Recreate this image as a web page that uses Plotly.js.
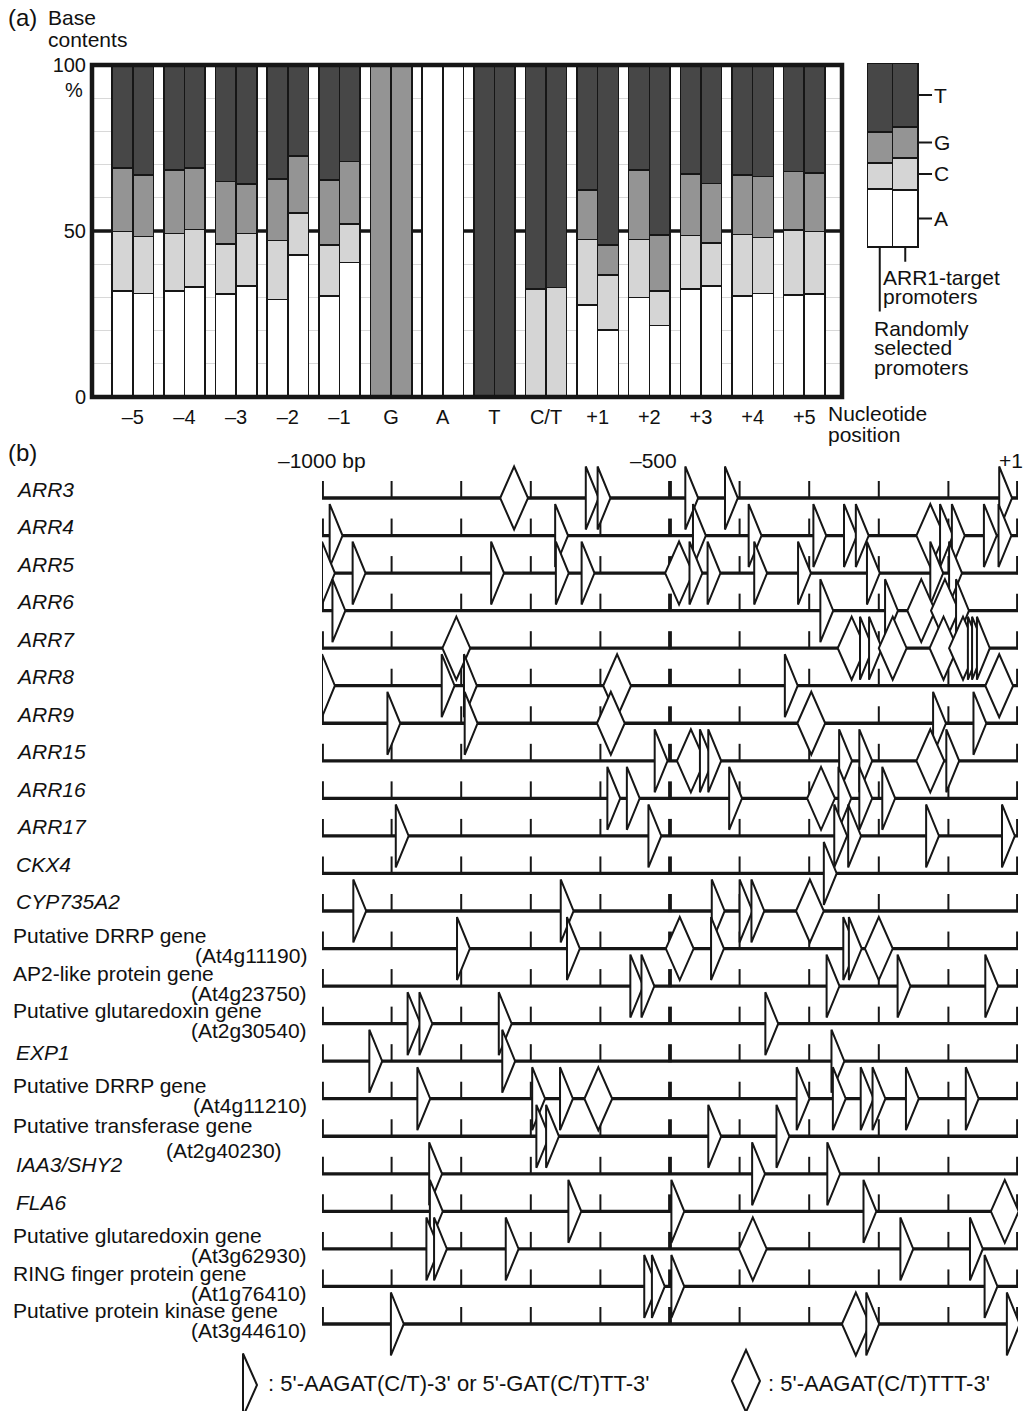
<!DOCTYPE html>
<html><head><meta charset="utf-8">
<script src="https://cdn.plot.ly/plotly-3.0.1.min.js"></script>
<style>html,body{margin:0;padding:0;background:#fff;} #chart{width:1023px;height:1411px;}</style>
</head><body><div id="chart"></div>
<script>
// ---------- (a) base contents data ----------
const positions = ['\u20135','\u20134','\u20133','\u20132','\u20131','G','A','T','C/T','+1','+2','+3','+4','+5'];
const randomA = [32.0,32.0,31.0,29.4,30.4,0,100,0,0,27.7,30.0,32.5,30.4,30.7];
const randomC = [17.8,17.3,15.1,17.7,15.4,0,0,0,32.5,19.8,17.5,16.1,18.6,19.6];
const randomG = [19.1,19.1,18.8,18.6,19.6,100,0,0,0,14.8,20.9,18.6,17.9,17.6];
const randomT = [31.1,31.6,35.1,34.3,34.6,0,0,100,67.5,37.7,31.6,32.8,33.1,32.1];
const targetA = [31.2,33.2,33.5,42.8,40.5,0,100,0,0,20.2,21.5,33.5,31.2,31.0];
const targetC = [17.1,17.3,15.8,12.7,11.6,0,0,0,33.0,16.5,10.5,12.8,16.9,18.8];
const targetG = [18.6,18.4,14.9,17.1,18.8,100,0,0,0,9.1,16.8,18.0,18.3,17.7];
const targetT = [33.1,31.1,35.8,27.4,29.1,0,0,100,67.0,54.2,51.2,35.7,33.6,32.5];
const legendBases = ['A','C','G','T'];
const legendRandom = [31.5,14.2,16.8,37.5];
const legendTarget = [31.0,17.4,16.8,34.8];

// ---------- (b) promoter motif data (bp, motif start) ----------
const genes = ['ARR3','ARR4','ARR5','ARR6','ARR7','ARR8','ARR9','ARR15','ARR16','ARR17','CKX4','CYP735A2',
 'Putative DRRP gene','AP2-like protein gene','Putative glutaredoxin gene','EXP1','Putative DRRP gene',
 'Putative transferase gene','IAA3/SHY2','FLA6','Putative glutaredoxin gene','RING finger protein gene',
 'Putative protein kinase gene'];
const geneIds = ['','','','','','','','','','','','','(At4g11190)','(At4g23750)','(At2g30540)','','(At4g11210)',
 '(At2g40230)','','','(At3g62930)','(At1g76410)','(At3g44610)'];
const shortMotif = [
 [-621,-604,-478,-421,-27],
 [-989,-665,-467,-387,-294,-250,-233,-112,-95,-49,-28],
 [-1000,-956,-757,-664,-627,-472,-446,-379,-316,-217,-126,-99],
 [-985,-284,-191,-89],
 [-227,-214,-72,-66,-59],
 [-1000,-828,-796,-335],
 [-906,-795,-122,-64],
 [-522,-457,-445,-257,-228,-103],
 [-590,-562,-415,-258,-228,-195],
 [-894,-531,-264,-244,-132,-23],
 [-279],
 [-955,-657,-440,-400,-383],
 [-806,-648,-441,-251,-243],
 [-557,-541,-275,-173,-47],
 [-877,-860,-746,-363],
 [-932,-741,-268],
 [-863,-698,-658,-318,-266,-226,-209,-161,-75],
 [-692,-678,-445,-347],
 [-846,-382,-274],
 [-845,-646,-498,-222],
 [-850,-839,-736,-169,-69],
 [-537,-526,-498,-48],
 [-901,-218,-16]
];
const longMotif = [
 [-744],[-146],[-507],[-159,-125],[-827,-259,-200,-127,-99],[-596,-47],[-605,-317],[-490,-146],
 [-303],[],[],[-319],[-506,-220],[],[],[],[-623],[],[],[-39],[-401],[],[-253]
];
const axisMarks = [-1000,-900,-800,-700,-600,-500,-400,-300,-200,-100,0];
const majorMarks = [-1000,-500,0];

// ---------- layout helpers ----------
const W=1023,H=1411;
const fx = p => p/W, fy = p => 1 - p/H;
const FONT = '"Liberation Sans", Arial, Helvetica, sans-serif';
const INK = '#161616';
const colors = {A:'#ffffff',C:'#d5d5d5',G:'#949494',T:'#474747'};
const randomSets = {A:randomA,C:randomC,G:randomG,T:randomT};
const targetSets = {A:targetA,C:targetC,G:targetG,T:targetT};
const idx = positions.map((_,i)=>i);
const traces = [];
const shapes = [];
const ann = [];

['A','C','G','T'].forEach(b=>{
  traces.push({type:'bar',x:idx.map(i=>i-0.2),y:randomSets[b],width:0.4,xaxis:'x',yaxis:'y',
    marker:{color:colors[b],line:{color:INK,width:1.6}},hoverinfo:'skip'});
  traces.push({type:'bar',x:idx.map(i=>i+0.2),y:targetSets[b],width:0.4,xaxis:'x',yaxis:'y',
    marker:{color:colors[b],line:{color:INK,width:1.6}},hoverinfo:'skip'});
});
legendBases.forEach((b,k)=>{
  traces.push({type:'bar',x:[0,1],y:[legendRandom[k],legendTarget[k]],width:1,xaxis:'x2',yaxis:'y2',
    marker:{color:colors[b],line:{color:INK,width:1.6}},hoverinfo:'skip'});
});
// 50% line (under bars) and frame
shapes.push({type:'line',xref:'paper',yref:'y',x0:fx(92),x1:fx(842),y0:50,y1:50,line:{color:INK,width:3.5},layer:'below'});
shapes.push({type:'rect',xref:'paper',yref:'paper',x0:fx(92),x1:fx(842),y0:fy(397),y1:fy(65),line:{color:INK,width:4.5},layer:'above'});
// legend ticks + labels
let cum = 0;
legendBases.forEach((b,k)=>{
  const mid = cum + legendTarget[k]/2; cum += legendTarget[k];
  shapes.push({type:'line',xref:'x2',yref:'y2',x0:1.5,x1:2.05,y0:mid,y1:mid,line:{color:INK,width:2}});
  ann.push({xref:'x2',yref:'y2',x:2.05,y:mid,text:b,showarrow:false,xanchor:'left',yanchor:'middle',font:{size:21}});
});
shapes.push({type:'line',xref:'x2',yref:'y2',x0:0,x1:0,y0:0,y1:-35,line:{color:INK,width:2}});
shapes.push({type:'line',xref:'x2',yref:'y2',x0:1,x1:1,y0:0,y1:-8,line:{color:INK,width:2}});

function txt(x,y,t,opt){ann.push(Object.assign({xref:'paper',yref:'paper',x:fx(x),y:fy(y),text:t,showarrow:false,
  xanchor:'left',yanchor:'middle',font:{size:21}},opt||{}));}
txt(6,18,'(a)',{font:{size:24}});
txt(46,18,'Base'); txt(46,40,'contents');
txt(74,90,'%',{xanchor:'center',font:{size:20}});
txt(826,413,'Nucleotide'); txt(826,434,'position');
txt(881,277,'ARR1-target'); txt(881,297,'promoters');
txt(872,328,'Randomly'); txt(872,348,'selected'); txt(872,368,'promoters');

// ---------- (b) ----------
const ROW0=498, PITCH=37.545;
const hh = 31.5/PITCH, tickH = 17/PITCH, triW=18.5, diaW=40;
const lx=[],ly=[],tx=[],ty=[],Tx=[],Ty=[];
genes.forEach((g,r)=>{
  lx.push(-1000,0,null); ly.push(r,r,null);
  axisMarks.forEach(m=>{
    if(majorMarks.includes(m)){Tx.push(m,m,null);Ty.push(r+0.03,r-tickH,null);}
    else {tx.push(m,m,null);ty.push(r,r-tickH,null);}
  });
});
traces.push({type:'scatter',mode:'lines',x:lx,y:ly,xaxis:'x3',yaxis:'y3',line:{color:INK,width:3.3},hoverinfo:'skip'});
traces.push({type:'scatter',mode:'lines',x:tx,y:ty,xaxis:'x3',yaxis:'y3',line:{color:INK,width:2},hoverinfo:'skip'});
traces.push({type:'scatter',mode:'lines',x:Tx,y:Ty,xaxis:'x3',yaxis:'y3',line:{color:INK,width:3.8},hoverinfo:'skip'});

const triPath=(s,r)=>`M ${s},${r-hh} L ${s+triW},${r} L ${s},${r+hh} Z`;
const diaPath=(s,r)=>`M ${s},${r} L ${s+diaW/2},${r-hh} L ${s+diaW},${r} L ${s+diaW/2},${r+hh} Z`;
genes.forEach((g,r)=>{
  const items = shortMotif[r].map(s=>({s,t:'tri'})).concat(longMotif[r].map(s=>({s,t:'dia'})));
  items.sort((a,b)=>a.s-b.s);
  items.forEach(it=>{
    shapes.push({type:'path',xref:'x3',yref:'y3',path: it.t==='tri'?triPath(it.s,r):diaPath(it.s,r),
      fillcolor:'#ffffff',line:{color:INK,width:2},layer:'above'});
  });
});
// gene labels
genes.forEach((g,r)=>{
  if(!geneIds[r]){
    ann.push({xref:'paper',yref:'y3',x:fx(14),y:r,yshift:9,text:'<i>'+g+'</i>',showarrow:false,xanchor:'left',yanchor:'middle',font:{size:21}});
  } else {
    const special = geneIds[r]==='(At2g40230)';
    ann.push({xref:'paper',yref:'y3',x:fx(11),y:r,yshift:special?11:13,text:g,showarrow:false,xanchor:'left',yanchor:'middle',font:{size:21}});
    ann.push({xref:'paper',yref:'y3',x:fx(special?284:309),y:r,yshift:special?-14:-7,text:geneIds[r],showarrow:false,xanchor:'right',yanchor:'middle',font:{size:21}});
  }
});
txt(6,452,'(b)',{font:{size:24}});
ann.push({xref:'x3',yref:'y3',x:-1000,y:-1,text:'\u20131000 bp',showarrow:false,xanchor:'center',yanchor:'middle',font:{size:21}});
ann.push({xref:'x3',yref:'y3',x:-500,y:-1,xshift:9,text:'\u2013500',showarrow:false,xanchor:'right',yanchor:'middle',font:{size:21}});
ann.push({xref:'x3',yref:'y3',x:0,y:-1,xshift:7,text:'+1',showarrow:false,xanchor:'right',yanchor:'middle',font:{size:21}});
// bottom key
const kTri = `M ${fx(243)},${fy(1353.5)} L ${fx(257)},${fy(1385)} L ${fx(243)},${fy(1416.5)} Z`;
const kDia = `M ${fx(732)},${fy(1381)} L ${fx(746)},${fy(1350)} L ${fx(760)},${fy(1381)} L ${fx(746)},${fy(1412)} Z`;
shapes.push({type:'path',xref:'paper',yref:'paper',path:kTri,fillcolor:'#fff',line:{color:INK,width:2}});
shapes.push({type:'path',xref:'paper',yref:'paper',path:kDia,fillcolor:'#fff',line:{color:INK,width:2}});
txt(266,1383,": 5'-AAGAT(C/T)-3' or 5'-GAT(C/T)TT-3'",{font:{size:22}});
txt(766,1383,": 5'-AAGAT(C/T)TTT-3'",{font:{size:22}});

const layout = {
  width:W,height:H,margin:{l:0,r:0,t:0,b:0},paper_bgcolor:'#fff',plot_bgcolor:'rgba(0,0,0,0)',
  showlegend:false,barmode:'stack',font:{family:FONT,color:'#111',size:20},
  xaxis:{domain:[fx(92),fx(842)],range:[-0.79,13.73],tickvals:idx,ticktext:positions,ticks:'',showgrid:false,
    zeroline:false,showline:false,tickfont:{size:20},anchor:'y',fixedrange:true,ticklabelstandoff:6},
  yaxis:{domain:[fy(397),fy(65)],range:[0,100],tickvals:[0,50,100],ticktext:['0','50','100'],showgrid:false,
    minor:{tickvals:[10,20,30,40,60,70,80,90],showgrid:true,gridcolor:'#d8d8d8',gridwidth:1,ticks:''},
    zeroline:false,ticks:'',showline:false,tickfont:{size:20},anchor:'x',fixedrange:true,ticklabelstandoff:5},
  xaxis2:{domain:[fx(867),fx(935.85)],range:[-0.5,2.2],visible:false,anchor:'y2',fixedrange:true},
  yaxis2:{domain:[fy(320.6),fy(63)],range:[-40,100],visible:false,anchor:'x2',fixedrange:true},
  xaxis3:{domain:[fx(322),fx(1018)],range:[-1000,0],visible:false,anchor:'y3',fixedrange:true},
  yaxis3:{domain:[fy(ROW0+23.5*PITCH),fy(ROW0-1.5*PITCH)],range:[23.5,-1.5],visible:false,anchor:'x3',fixedrange:true},
  shapes:shapes,annotations:ann
};
Plotly.newPlot('chart',traces,layout,{staticPlot:true,displayModeBar:false});
</script></body></html>
